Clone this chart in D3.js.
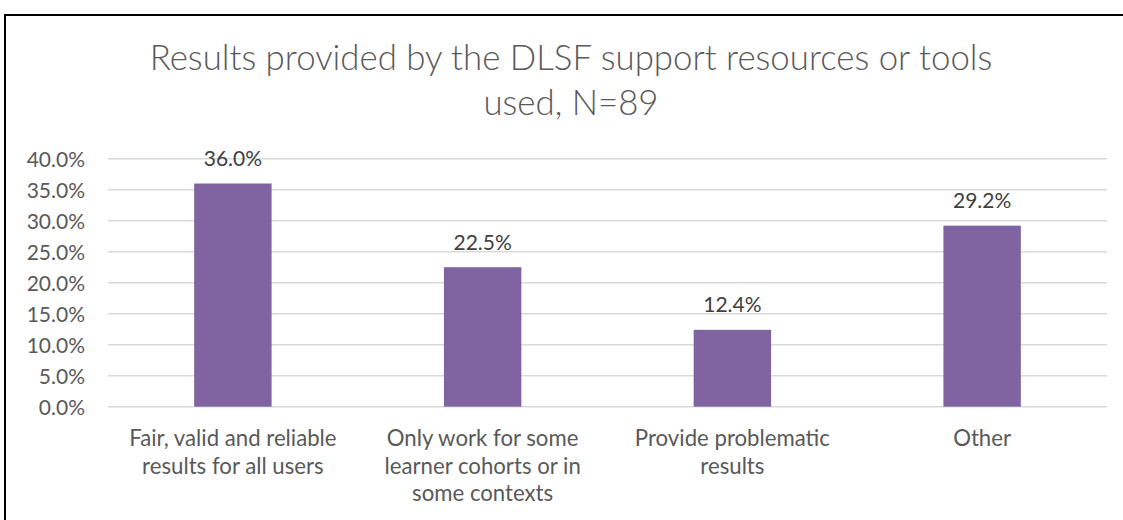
<!DOCTYPE html>
<html>
<head>
<meta charset="utf-8">
<script src="https://cdn.jsdelivr.net/npm/d3@7"></script>
<style>
  body { margin: 0; background: #fff; }
  text { font-family: Lato, "Open Sans", sans-serif; }
</style>
</head>
<body>
<div id="chart"></div>
<script>
// chart data
var categories = [
  ["Fair, valid and reliable", "results for all users"],
  ["Only work for some", "learner cohorts or in", "some contexts"],
  ["Provide problematic", "results"],
  ["Other"]
];
var values = [36.0, 22.5, 12.4, 29.2];
var yTicks = [0, 5, 10, 15, 20, 25, 30, 35, 40];
var titleLines = ["Results provided by the DLSF support resources or tools", "used, N=89"];

const w = 1123, h = 520;
const plotLeft = 108, plotRight = 1107, plotTop = 158.7, plotBottom = 406.7;

const svg = d3.select("#chart").append("svg")
  .attr("width", w)
  .attr("height", h);

svg.append("rect")
  .attr("x", 5).attr("y", 15)
  .attr("width", 1300).attr("height", 700)
  .attr("fill", "none")
  .attr("stroke", "#000")
  .attr("stroke-width", 2);

// scales
const xScale = d3.scaleBand()
  .domain(d3.range(categories.length))
  .range([plotLeft, plotRight])
  .paddingInner(0.69)
  .paddingOuter(0.345);

const yScale = d3.scaleLinear()
  .domain([0, 40])
  .range([plotBottom, plotTop]);

// gridlines
svg.append("g")
  .selectAll("line")
  .data(yTicks)
  .enter()
  .append("line")
  .attr("x1", plotLeft).attr("x2", plotRight)
  .attr("y1", d => yScale(d)).attr("y2", d => yScale(d))
  .attr("stroke", "#d9d9d9")
  .attr("stroke-width", 1.5);

// y axis labels
const yAxis = d3.axisLeft(yScale)
  .tickValues(yTicks)
  .tickSize(0)
  .tickPadding(0)
  .tickFormat(d => d.toFixed(1) + "%");

svg.append("g")
  .attr("transform", "translate(" + 85 + ",0)")
  .call(yAxis)
  .call(g => g.select(".domain").remove())
  .selectAll("text")
  .attr("font-family", "Lato")
  .attr("font-size", 21)
  .attr("fill", "#595959")
  .attr("dy", "0.35em");

// bars
svg.selectAll(".bar")
  .data(values)
  .enter()
  .append("rect")
  .attr("class", "bar")
  .attr("x", (d, i) => xScale(i))
  .attr("width", xScale.bandwidth())
  .attr("y", d => yScale(d))
  .attr("height", d => plotBottom - yScale(d))
  .attr("fill", "#8064a2");

// data labels
svg.selectAll(".lbl")
  .data(values)
  .enter()
  .append("text")
  .attr("class", "lbl")
  .attr("x", (d, i) => xScale(i) + xScale.bandwidth() / 2)
  .attr("y", d => yScale(d) - 17.5)
  .attr("text-anchor", "middle")
  .attr("font-size", 21)
  .attr("fill", "#404040")
  .text(d => d.toFixed(1) + "%");

// category labels
const cat = svg.selectAll(".cat")
  .data(categories)
  .enter()
  .append("text")
  .attr("class", "cat")
  .attr("text-anchor", "middle")
  .attr("font-size", 22.2)
  .attr("fill", "#595959");

cat.selectAll("tspan")
  .data((d, i) => d.map(s => [s, i]))
  .enter()
  .append("tspan")
  .attr("x", d => xScale(d[1]) + xScale.bandwidth() / 2)
  .attr("y", (d, j) => 446 + j * 27.5)
  .text(d => d[0]);

// title
svg.append("text")
  .attr("text-anchor", "middle")
  .attr("font-size", 34.8)
  .attr("font-weight", 300)
  .attr("fill", "#595959")
  .selectAll("tspan")
  .data(titleLines)
  .enter()
  .append("tspan")
  .attr("x", 571)
  .attr("y", (d, i) => 70 + i * 45)
  .text(d => d);
</script>
</body>
</html>
